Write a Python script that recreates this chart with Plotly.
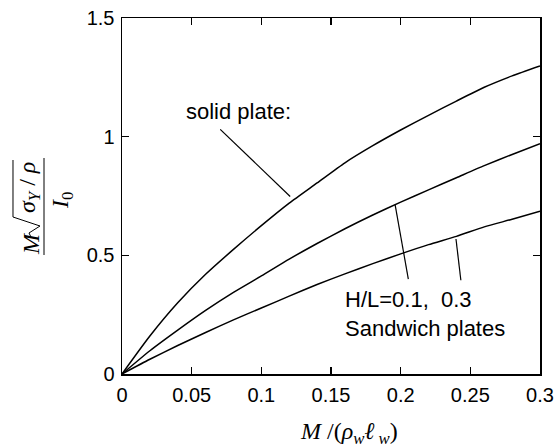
import plotly.graph_objects as go

# ---- data ----
x_vals = [0, 0.02, 0.04, 0.06, 0.08, 0.10, 0.12, 0.14, 0.16, 0.18, 0.20, 0.22, 0.24, 0.26, 0.28, 0.30]
solid_plate = [0, 0.16, 0.30, 0.42, 0.525, 0.625, 0.72, 0.805, 0.89, 0.962, 1.028, 1.09, 1.150, 1.208, 1.256, 1.298]
sandwich_hl01 = [0, 0.098, 0.185, 0.268, 0.344, 0.413, 0.484, 0.550, 0.612, 0.670, 0.724, 0.776, 0.827, 0.878, 0.925, 0.970]
sandwich_hl03 = [0, 0.062, 0.12, 0.175, 0.228, 0.278, 0.328, 0.377, 0.422, 0.465, 0.506, 0.545, 0.580, 0.620, 0.652, 0.686]

x_ticks = [0, 0.05, 0.1, 0.15, 0.2, 0.25, 0.3]
y_ticks = [0, 0.5, 1, 1.5]

# leader lines (data coords)
leaders = [
    ((0.0705, 1.031), (0.1207, 0.748)),
    ((0.196, 0.714), (0.2055, 0.400)),
    ((0.2397, 0.569), (0.2432, 0.395)),
]

W, H = 555, 448
PL, PR, PT, PB = 122, 540, 18, 374          # plot area in window pixels
ML, MT, MR, MB = PL, PT, W - PR, H - PB


def px(xp):
    return (xp - PL) / (PR - PL)


def py(yp):
    return (PB - yp) / (PB - PT)


SANS = "Liberation Sans, Arial, sans-serif"
SERIF = "Liberation Serif, Times New Roman, serif"

fig = go.Figure()
for ys in (solid_plate, sandwich_hl01, sandwich_hl03):
    fig.add_trace(go.Scatter(x=x_vals, y=ys, mode="lines",
                             line=dict(color="black", width=1.5, shape="spline", smoothing=0.6),
                             showlegend=False, hoverinfo="skip"))

shapes = []
for (x0, y0), (x1, y1) in leaders:
    shapes.append(dict(type="line", xref="x", yref="y", x0=x0, y0=y0, x1=x1, y1=y1,
                       line=dict(color="black", width=1.2)))

# y-title fraction bar
shapes.append(dict(type="line", xref="paper", yref="paper",
                   x0=px(44), x1=px(44), y0=py(158), y1=py(255),
                   line=dict(color="black", width=1)))
# radical sign
rad_pts = [(31, 237), (29, 233), (40, 226), (13, 217), (13, 160)]
path = "M " + " L ".join(f"{px(a):.5f},{py(b):.5f}" for a, b in rad_pts)
shapes.append(dict(type="path", xref="paper", yref="paper", path=path,
                   line=dict(color="black", width=1)))

annotations = [
    dict(text="solid plate:", x=px(238), y=py(111), xref="paper", yref="paper",
         showarrow=False, font=dict(family=SANS, size=22, color="black"),
         xanchor="center", yanchor="middle"),
    dict(text="H/L=0.1,\u00a0\u00a00.3<br>Sandwich plates", x=px(343), y=py(314),
         xref="paper", yref="paper", showarrow=False, align="left",
         font=dict(family=SANS, size=22, color="black"),
         xanchor="left", yanchor="middle"),
    # x title
    dict(text="<i>M</i> /(<i>ρ</i><sub><i>w</i></sub><i>ℓ</i><sub> <i>w</i></sub>)",
         x=px(349), y=py(433), xref="paper", yref="paper", showarrow=False,
         font=dict(family=SERIF, size=24, color="black"),
         xanchor="center", yanchor="middle"),
    # y title pieces (rotated)
    dict(text="<i>M</i>", x=px(31), y=py(244), xref="paper", yref="paper",
         showarrow=False, textangle=-90, font=dict(family=SERIF, size=24, color="black"),
         xanchor="center", yanchor="middle"),
    dict(text="<i>σ</i><sub><i>Y</i></sub> / <i>ρ</i>", x=px(29), y=py(188),
         xref="paper", yref="paper", showarrow=False, textangle=-90,
         font=dict(family=SERIF, size=24, color="black"),
         xanchor="center", yanchor="middle"),
    dict(text="<i>I</i><sub>0</sub>", x=px(62), y=py(201), xref="paper", yref="paper",
         showarrow=False, textangle=-90, font=dict(family=SERIF, size=24, color="black"),
         xanchor="center", yanchor="middle"),
]

axis_common = dict(showline=True, linecolor="black", linewidth=1.5, mirror="allticks",
                   ticks="inside", ticklen=7, tickwidth=1.2, tickcolor="black",
                   showgrid=False, zeroline=False,
                   tickfont=dict(family=SANS, size=20, color="black"))

fig.update_layout(
    width=W, height=H,
    margin=dict(l=ML, r=MR, t=MT, b=MB, autoexpand=False),
    paper_bgcolor="white", plot_bgcolor="white",
    xaxis=dict(range=[0, 0.3], tickvals=x_ticks, ticktext=[f"{v:g}" for v in x_ticks],
               ticklabelstandoff=2, **axis_common),
    yaxis=dict(range=[0, 1.5], tickvals=y_ticks, ticktext=[f"{v:g}" for v in y_ticks],
               ticklabelstandoff=2, **axis_common),
    shapes=shapes,
    annotations=annotations,
)

fig.write_html("out.html", config={"displayModeBar": False, "staticPlot": True},
               post_script="document.body.style.margin='0';document.body.style.overflow='hidden';")
